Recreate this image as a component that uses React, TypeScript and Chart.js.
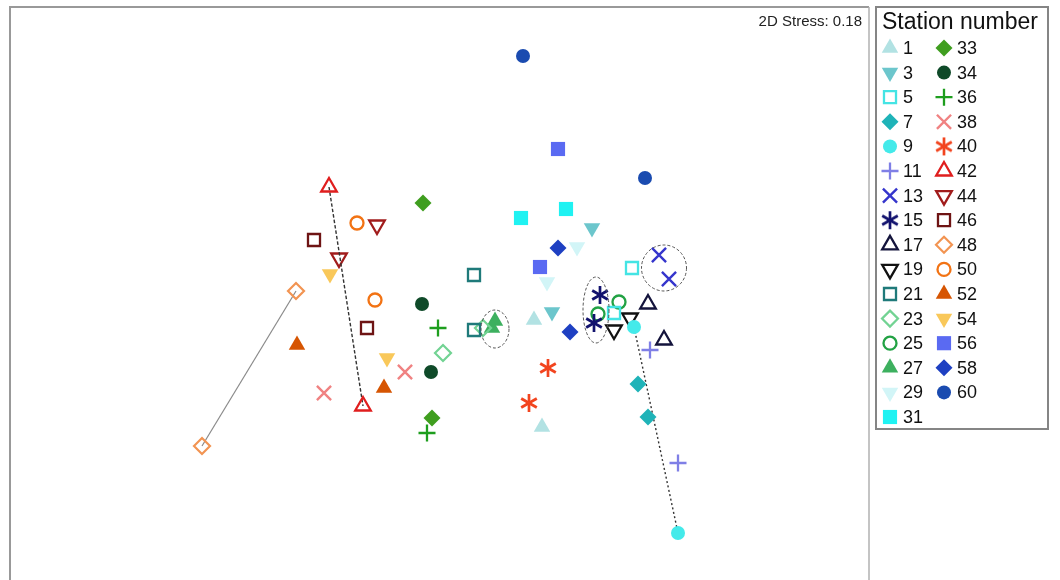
import React, { useEffect, useRef } from 'react';
import { Chart, registerables } from 'chart.js';
import { drawPoint } from 'chart.js/helpers';

Chart.register(...registerables);

// Station labels (legend order)
const stationLabels = ['1', '3', '5', '7', '9', '11', '13', '15', '17', '19', '21', '23', '25', '27', '29', '31',
  '33', '34', '36', '38', '40', '42', '44', '46', '48', '50', '52', '54', '56', '58', '60'];

// NMDS coordinates, first sample of each station
const xA = [0.94, 1.52, 1.92, 1.98, 1.94, 2.10, 2.19, 1.60, 2.08, 1.74, 0.34, 0.03, 1.79, 0.55, 1.37, 0.81,
  -0.17, -0.18, -0.02, -0.35, 1.08, -1.11, -0.63, -1.26, -1.44, -0.83, -1.43, -1.10, 1.18, 1.18, 0.83];
const yA = [-0.20, 0.72, 0.32, -0.84, -0.27, -0.50, 0.45, 0.05, -0.04, -0.30, 0.25, -0.53, -0.02, -0.21, 0.53, 0.82,
  0.97, -0.04, -0.28, -0.72, -0.68, 1.13, 0.75, 0.60, 0.09, 0.77, -0.45, 0.26, 1.51, 0.52, 2.44];
// NMDS coordinates, second sample of each station
const xB = [1.02, 1.12, 1.74, 2.08, 2.38, 2.38, 2.29, 1.54, 2.24, 1.90, 0.34, 0.43, 1.58, 0.52, 1.07, 1.26,
  -0.08, -0.09, -0.13, -1.16, 0.89, -0.77, -1.01, -0.73, -2.38, -0.65, -0.56, -0.53, 1.00, 1.30, 2.05];
const yB = [-1.27, -0.12, -0.13, -1.17, -2.33, -1.63, 0.21, -0.23, -0.40, -0.18, -0.30, -0.28, -0.14, -0.28, 0.18, 0.91,
  -1.18, -0.72, -1.33, -0.93, -1.03, -1.06, 0.42, -0.28, -1.46, 0.00, -0.88, -0.58, 0.33, -0.32, 1.22];

// Ellipses around replicate pairs (data units)
const ellipseCX = [0.55, 1.56, 2.24];
const ellipseCY = [-0.29, -0.10, 0.32];
const ellipseRX = [0.14, 0.13, 0.225];
const ellipseRY = [0.19, 0.33, 0.23];

// Axis extents
const xRange = [-4.30, 4.29];
const yRange = [-2.80, 2.93];

const stressLabel = '2D Stress: 0.18';
const legendTitle = 'Station number';

type MStyle = { s: string; rot: number; fill: boolean; c: string; r: number; bw: number };
const markerStyles: MStyle[] = [
  { s: 'triangle', rot: 0, fill: true, c: '#b2e2e3', r: 9.5, bw: 0 },
  { s: 'triangle', rot: 180, fill: true, c: '#6cc6cc', r: 9.5, bw: 0 },
  { s: 'rect', rot: 0, fill: false, c: '#44e4e4', r: 8.5, bw: 2.3 },
  { s: 'rectRot', rot: 0, fill: true, c: '#1fb3b8', r: 8.5, bw: 0 },
  { s: 'circle', rot: 0, fill: true, c: '#44eaea', r: 7, bw: 0 },
  { s: 'cross', rot: 0, fill: false, c: '#7f7fe6', r: 8.5, bw: 2.3 },
  { s: 'crossRot', rot: 0, fill: false, c: '#3535cc', r: 10, bw: 2.4 },
  { s: 'asterisk', rot: 0, fill: false, c: '#12126e', r: 9, bw: 2 },
  { s: 'triangle', rot: 0, fill: false, c: '#14143c', r: 9, bw: 2.3 },
  { s: 'triangle', rot: 180, fill: false, c: '#111111', r: 9, bw: 2.3 },
  { s: 'rect', rot: 0, fill: false, c: '#1f7a7a', r: 8.5, bw: 2.3 },
  { s: 'rectRot', rot: 0, fill: false, c: '#72d393', r: 8, bw: 2.2 },
  { s: 'circle', rot: 0, fill: false, c: '#22a244', r: 6.5, bw: 2.3 },
  { s: 'triangle', rot: 0, fill: true, c: '#3db05f', r: 9.5, bw: 0 },
  { s: 'triangle', rot: 180, fill: true, c: '#d2f5f7', r: 9.5, bw: 0 },
  { s: 'rect', rot: 0, fill: true, c: '#1ff2f2', r: 10, bw: 0 },
  { s: 'rectRot', rot: 0, fill: true, c: '#3f9e1f', r: 8.5, bw: 0 },
  { s: 'circle', rot: 0, fill: true, c: '#0f4a29', r: 7, bw: 0 },
  { s: 'cross', rot: 0, fill: false, c: '#1e9e1e', r: 8.5, bw: 2.3 },
  { s: 'crossRot', rot: 0, fill: false, c: '#f08282', r: 10, bw: 2.4 },
  { s: 'asterisk', rot: 0, fill: false, c: '#f2441e', r: 9, bw: 2 },
  { s: 'triangle', rot: 0, fill: false, c: '#e01e1e', r: 9, bw: 2.3 },
  { s: 'triangle', rot: 180, fill: false, c: '#a11c1c', r: 9, bw: 2.3 },
  { s: 'rect', rot: 0, fill: false, c: '#6e1414', r: 8.5, bw: 2.3 },
  { s: 'rectRot', rot: 0, fill: false, c: '#f29452', r: 8, bw: 2.2 },
  { s: 'circle', rot: 0, fill: false, c: '#f27314', r: 6.5, bw: 2.3 },
  { s: 'triangle', rot: 0, fill: true, c: '#d65502', r: 9.5, bw: 0 },
  { s: 'triangle', rot: 180, fill: true, c: '#f9c85a', r: 9.5, bw: 0 },
  { s: 'rect', rot: 0, fill: true, c: '#5a6af2', r: 10, bw: 0 },
  { s: 'rectRot', rot: 0, fill: true, c: '#1e40c2', r: 8.5, bw: 0 },
  { s: 'circle', rot: 0, fill: true, c: '#1a4bb0', r: 7, bw: 0 },
];

// Lines joining the two samples of some stations
const linkStyles: Record<string, { color: string; dash: number[]; width: number }> = {
  '9': { color: '#333333', dash: [2, 2.5], width: 1.4 },
  '42': { color: '#333333', dash: [3.5, 2], width: 1.4 },
  '48': { color: '#8a8a8a', dash: [], width: 1.2 },
};

const FONT = '"Liberation Sans", Arial, sans-serif';

function makeAsterisk(color: string, L: number): HTMLCanvasElement {
  const c = document.createElement('canvas');
  c.width = 22;
  c.height = 22;
  const g = c.getContext('2d')!;
  g.strokeStyle = color;
  g.lineWidth = 2.7;
  g.lineCap = 'butt';
  const cx = 11, cy = 11;
  for (let k = 0; k < 3; k++) {
    const a = Math.PI / 2 + (k * Math.PI) / 3;
    g.beginPath();
    g.moveTo(cx - Math.cos(a) * L, cy - Math.sin(a) * L);
    g.lineTo(cx + Math.cos(a) * L, cy + Math.sin(a) * L);
    g.stroke();
  }
  return c;
}

export default function App() {
  const ref = useRef<HTMLCanvasElement | null>(null);

  useEffect(() => {
    if (!ref.current) return;
    const styleOf = (st: MStyle): any => (st.s === 'asterisk' ? makeAsterisk(st.c, st.r) : st.s);

    const datasets = stationLabels.map((label, i) => {
      const st = markerStyles[i];
      const link = linkStyles[label];
      return {
        label,
        data: [{ x: xA[i], y: yA[i] }, { x: xB[i], y: yB[i] }],
        pointStyle: styleOf(st),
        pointRotation: st.rot,
        pointRadius: st.r,
        pointHoverRadius: st.r,
        pointBackgroundColor: st.fill ? st.c : 'rgba(0,0,0,0)',
        pointBorderColor: st.c,
        pointBorderWidth: st.bw,
        showLine: !!link,
        borderColor: link ? link.color : 'rgba(0,0,0,0)',
        borderWidth: link ? link.width : 0,
        borderDash: link ? link.dash : [],
        fill: false,
      };
    });

    const decor = {
      id: 'decor',
      beforeDraw(chart: any) {
        const ctx = chart.ctx;
        ctx.save();
        ctx.fillStyle = '#ffffff';
        ctx.fillRect(0, 0, chart.width, chart.height);
        ctx.restore();
      },
      afterDatasetsDraw(chart: any) {
        const ctx = chart.ctx;
        const xs = chart.scales.x;
        const ys = chart.scales.y;
        ctx.save();
        ctx.strokeStyle = '#555555';
        ctx.lineWidth = 1;
        ctx.setLineDash([3, 2]);
        for (let i = 0; i < ellipseCX.length; i++) {
          const cx = xs.getPixelForValue(ellipseCX[i]);
          const cy = ys.getPixelForValue(ellipseCY[i]);
          const rx = Math.abs(xs.getPixelForValue(ellipseCX[i] + ellipseRX[i]) - cx);
          const ry = Math.abs(ys.getPixelForValue(ellipseCY[i] + ellipseRY[i]) - cy);
          ctx.beginPath();
          ctx.ellipse(cx, cy, rx, ry, 0, 0, Math.PI * 2);
          ctx.stroke();
        }
        ctx.restore();
      },
      afterDraw(chart: any) {
        const ctx = chart.ctx;
        const a = chart.chartArea;
        ctx.save();
        // plot frame
        ctx.strokeStyle = '#999999';
        ctx.lineWidth = 2;
        ctx.beginPath();
        ctx.moveTo(a.left, chart.height);
        ctx.lineTo(a.left, a.top);
        ctx.lineTo(a.right, a.top);
        ctx.stroke();
        ctx.lineWidth = 1.5;
        ctx.strokeStyle = '#b0b0b0';
        ctx.beginPath();
        ctx.moveTo(a.right, a.top);
        ctx.lineTo(a.right, chart.height);
        ctx.stroke();

        // stress label
        ctx.fillStyle = '#222222';
        ctx.font = `15px ${FONT}`;
        ctx.textAlign = 'right';
        ctx.textBaseline = 'alphabetic';
        ctx.fillText(stressLabel, a.right - 7, a.top + 19);

        // legend box
        const bx = a.right + 7, by = a.top, bw = 172, bh = 422;
        ctx.strokeStyle = '#858585';
        ctx.lineWidth = 2;
        ctx.strokeRect(bx, by, bw, bh);
        ctx.fillStyle = '#111111';
        ctx.textAlign = 'left';
        ctx.font = `23px ${FONT}`;
        ctx.fillText(legendTitle, bx + 6, by + 22);

        ctx.font = `18px ${FONT}`;
        ctx.textBaseline = 'middle';
        const rows = 16;
        const step = 24.6;
        stationLabels.forEach((label, i) => {
          const col = Math.floor(i / rows);
          const row = i % rows;
          const mx = bx + 14 + col * 54;
          const my = by + 41 + row * step;
          const st = markerStyles[i];
          ctx.save();
          ctx.fillStyle = st.fill ? st.c : 'rgba(0,0,0,0)';
          ctx.strokeStyle = st.c;
          ctx.lineWidth = st.bw;
          ctx.setLineDash([]);
          drawPoint(ctx, { pointStyle: styleOf(st), rotation: st.rot, radius: st.r, borderWidth: st.bw } as any, mx, my);
          ctx.restore();
          ctx.fillStyle = '#111111';
          ctx.fillText(label, mx + 13, my + 1);
        });
        ctx.restore();
      },
    };

    const chart = new Chart(ref.current, {
      type: 'scatter',
      data: { datasets: datasets as any },
      options: {
        responsive: false,
        animation: false,
        devicePixelRatio: 1,
        layout: { autoPadding: false, padding: { left: 10, top: 7, right: 191, bottom: 0 } },
        scales: {
          x: { type: 'linear', min: xRange[0], max: xRange[1], display: false },
          y: { type: 'linear', min: yRange[0], max: yRange[1], display: false },
        },
        plugins: { legend: { display: false }, tooltip: { enabled: false } },
        elements: { line: { tension: 0 } },
      },
      plugins: [decor],
    });
    return () => chart.destroy();
  }, []);

  return (
    <div style={{ position: 'fixed', left: 0, top: 0, width: 1060, height: 580, background: '#fff' }}>
      <canvas ref={ref} width={1060} height={580} style={{ display: 'block', width: 1060, height: 580 }} />
    </div>
  );
}
